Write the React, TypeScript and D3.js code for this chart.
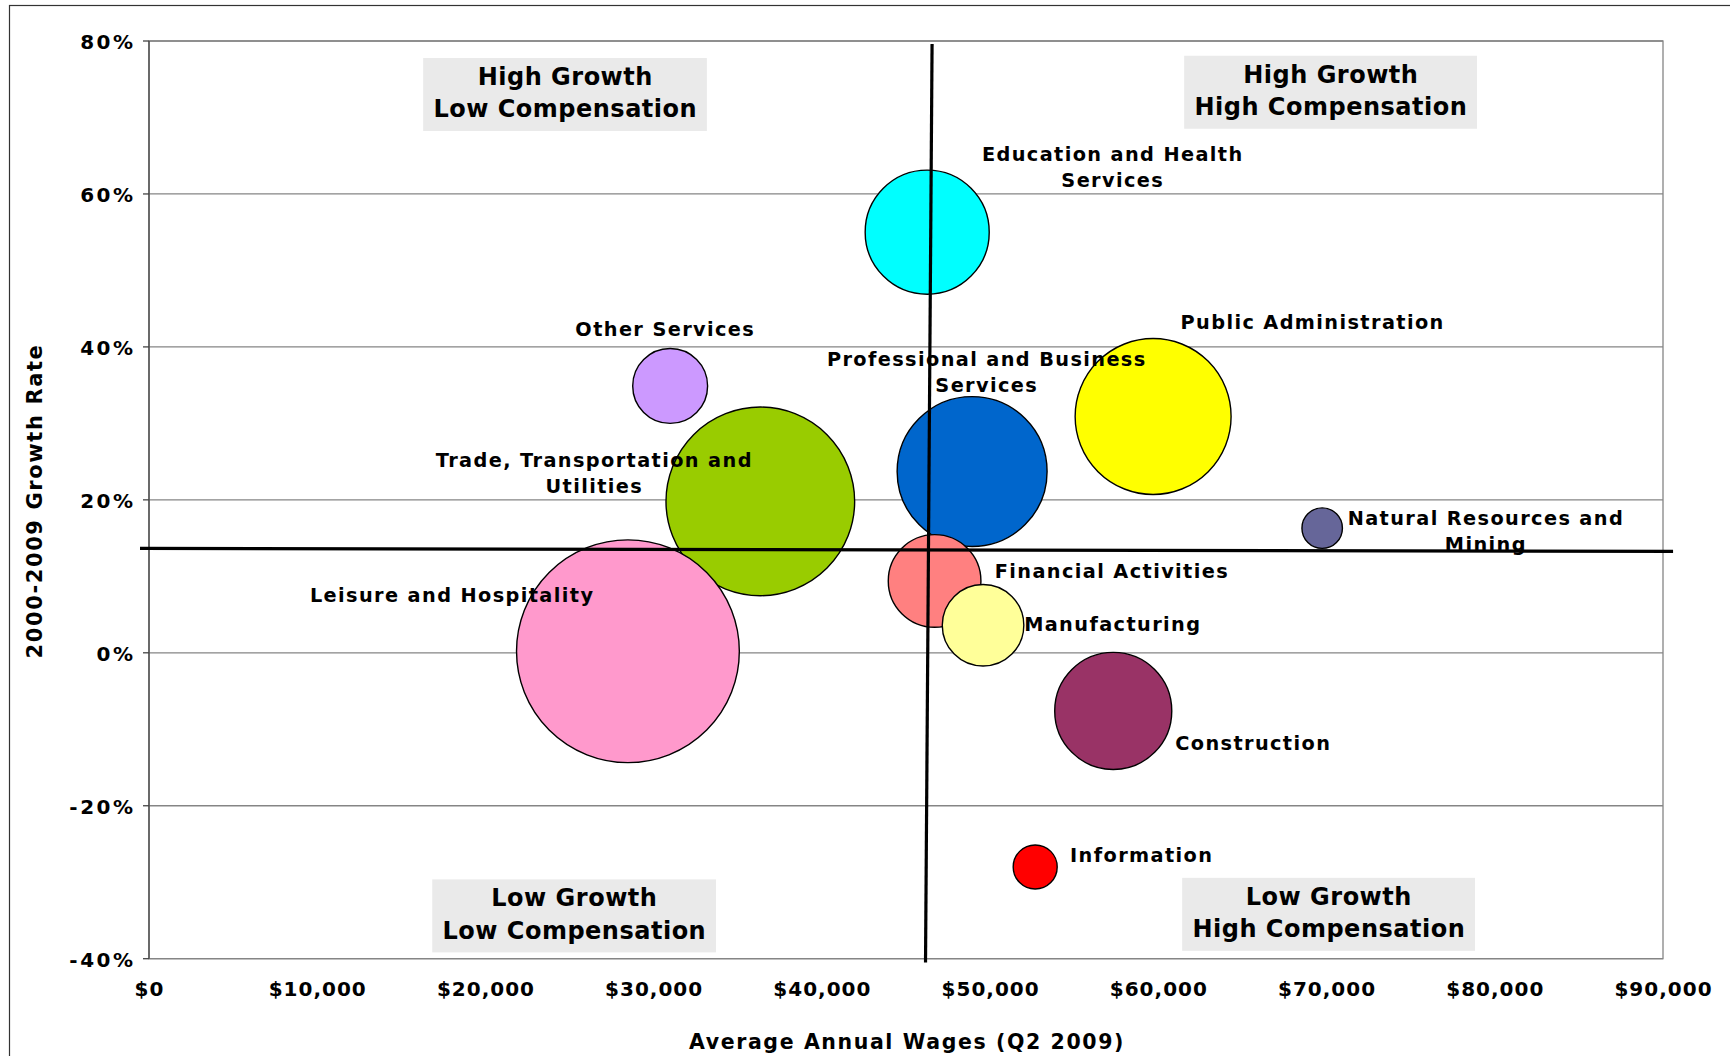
import React, { useEffect, useRef } from 'react';
import * as d3 from 'd3';

// ---- Data (drawing order) ----
const industries = [
  'Education and Health Services',
  'Other Services',
  'Trade, Transportation and Utilities',
  'Leisure and Hospitality',
  'Professional and Business Services',
  'Public Administration',
  'Natural Resources and Mining',
  'Financial Activities',
  'Manufacturing',
  'Construction',
  'Information',
];
const avgWages = [46260, 30980, 36340, 28470, 48930, 59690, 69740, 46700, 49580, 57320, 52680];
const growthRate = [55.0, 34.9, 19.8, 0.2, 23.7, 30.9, 16.3, 9.4, 3.6, -7.6, -28.0];
const employmentSize = [31.0, 11.3, 71.7, 100, 45.3, 49.0, 3.3, 17.3, 13.4, 27.6, 3.9];
const bubbleColors = ['#00FFFF', '#CC99FF', '#99CC00', '#FF99CC', '#0066CC', '#FFFF00', '#666699', '#FF8080', '#FFFF99', '#993366', '#FF0000'];

const labelLines = [
  ['Education and Health', 'Services'],
  ['Other Services'],
  ['Trade, Transportation and', 'Utilities'],
  ['Leisure and Hospitality'],
  ['Professional and Business', 'Services'],
  ['Public Administration'],
  ['Natural Resources and', 'Mining'],
  ['Financial Activities'],
  ['Manufacturing'],
  ['Construction'],
  ['Information'],
];
const labelWage = [57250, 30650, 26430, 17980, 49760, 69130, 79430, 57200, 57250, 65600, 58970];
const labelGrowth = [64.3, 41.4, 24.3, 6.6, 37.5, 42.35, 16.75, 9.73, 2.8, -12.65, -27.4];

const yTicks = [-40, -20, 0, 20, 40, 60, 80];
const xTicks = [0, 10000, 20000, 30000, 40000, 50000, 60000, 70000, 80000, 90000];

const quadrantText = [
  ['High Growth', 'Low Compensation'],
  ['High Growth', 'High Compensation'],
  ['Low Growth', 'Low Compensation'],
  ['Low Growth', 'High Compensation'],
];
const quadrantWage = [24730, 70240, 25270, 70120];
const quadrantGrowth = [73.0, 73.3, -34.4, -34.2];

const dividerVWage = [46550, 46160];
const dividerVGrowth = [79.6, -40.5];
const dividerHWage = [-535, 90600];
const dividerHGrowth = [13.65, 13.26];

const W = 1730;
const H = 1056;
const FONT = '"DejaVu Sans", Verdana, sans-serif';

export default function App() {
  const ref = useRef<SVGSVGElement>(null);

  useEffect(() => {
    const svg = d3.select(ref.current);
    svg.selectAll('*').remove();

    const left = 149, right = 1663, top = 41, bottom = 958.7;
    const x = d3.scaleLinear().domain([0, 90000]).range([left, right]);
    const y = d3.scaleLinear().domain([-40, 80]).range([bottom, top]);
    const r = d3.scaleSqrt().domain([0, 100]).range([0, 111.4]);

    // outer frame
    svg.append('rect').attr('x', 9.5).attr('y', 5.5).attr('width', 1800).attr('height', 1200)
      .attr('fill', 'white').attr('stroke', '#333').attr('stroke-width', 1.2);

    // plot area
    svg.append('rect').attr('x', left).attr('y', top).attr('width', right - left).attr('height', bottom - top)
      .attr('fill', 'white').attr('stroke', '#858585').attr('stroke-width', 1.3);

    // gridlines
    svg.append('g').selectAll('line').data(yTicks).join('line')
      .attr('x1', left).attr('x2', right)
      .attr('y1', d => y(d)).attr('y2', d => y(d))
      .attr('stroke', '#858585').attr('stroke-width', 1.3);

    // y axis line + ticks
    svg.append('line').attr('x1', left).attr('x2', left).attr('y1', top).attr('y2', bottom)
      .attr('stroke', '#444').attr('stroke-width', 1.3);
    svg.append('g').selectAll('line').data(yTicks).join('line')
      .attr('x1', left - 6).attr('x2', left)
      .attr('y1', d => y(d)).attr('y2', d => y(d))
      .attr('stroke', '#444').attr('stroke-width', 1.3);

    // y tick labels
    svg.append('g').selectAll('text').data(yTicks).join('text')
      .attr('x', 135.5).attr('y', d => y(d) + 8)
      .attr('text-anchor', 'end')
      .attr('font-family', FONT).attr('font-weight', 'bold').attr('font-size', 20)
      .attr('letter-spacing', 2.5).attr('fill', '#000')
      .text(d => `${d}%`);

    // x tick labels
    const fmt = d3.format(',');
    svg.append('g').selectAll('text').data(xTicks).join('text')
      .attr('x', d => x(d) + 0.5).attr('y', 996)
      .attr('text-anchor', 'middle')
      .attr('font-family', FONT).attr('font-weight', 'bold').attr('font-size', 20)
      .attr('letter-spacing', 1).attr('fill', '#000')
      .text(d => `$${fmt(d)}`);

    // axis titles
    svg.append('text').attr('x', 907).attr('y', 1049).attr('text-anchor', 'middle')
      .attr('font-family', FONT).attr('font-weight', 'bold').attr('font-size', 20.5)
      .attr('letter-spacing', 1.6).text('Average Annual Wages (Q2 2009)');
    svg.append('text').attr('transform', 'translate(41.5,501) rotate(-90)').attr('text-anchor', 'middle')
      .attr('font-family', FONT).attr('font-weight', 'bold').attr('font-size', 21)
      .attr('letter-spacing', 1.6).text('2000-2009 Growth Rate');

    // quadrant boxes
    const qg = svg.append('g');
    quadrantText.forEach((lines, i) => {
      const cx = x(quadrantWage[i]);
      const cy = y(quadrantGrowth[i]);
      const g = qg.append('g');
      const rect = g.append('rect').attr('fill', '#EAEAEA');
      const t = g.append('text').attr('text-anchor', 'middle')
        .attr('font-family', FONT).attr('font-weight', 'bold').attr('font-size', 24)
        .attr('letter-spacing', 0.5);
      lines.forEach((ln, k) => {
        t.append('tspan').attr('x', cx + 0.25).attr('y', cy - 9.6 + k * 32.3).text(ln);
      });
      const bb = (t.node() as SVGTextElement).getBBox();
      const w = bb.width + 20;
      rect.attr('x', cx - w / 2).attr('y', cy - 36.5).attr('width', w).attr('height', 73);
    });

    // bubbles
    svg.append('g').selectAll('circle').data(industries).join('circle')
      .attr('cx', (_, i) => x(avgWages[i]))
      .attr('cy', (_, i) => y(growthRate[i]))
      .attr('r', (_, i) => r(employmentSize[i]))
      .attr('fill', (_, i) => bubbleColors[i])
      .attr('stroke', '#000').attr('stroke-width', 1.4);

    // bubble labels
    const lg = svg.append('g');
    industries.forEach((_, i) => {
      const t = lg.append('text').attr('text-anchor', 'middle')
        .attr('font-family', FONT).attr('font-weight', 'bold').attr('font-size', 19.3)
        .attr('letter-spacing', 1.4).attr('fill', '#000');
      labelLines[i].forEach((ln, k) => {
        t.append('tspan').attr('x', x(labelWage[i]) + 0.7).attr('y', y(labelGrowth[i]) + k * 25.8).text(ln);
      });
    });

    // divider lines
    const line = d3.line<[number, number]>().x(d => x(d[0])).y(d => y(d[1]));
    svg.append('path')
      .attr('d', line([[dividerVWage[0], dividerVGrowth[0]], [dividerVWage[1], dividerVGrowth[1]]]))
      .attr('stroke', '#000').attr('stroke-width', 3.2).attr('fill', 'none');
    svg.append('path')
      .attr('d', line([[dividerHWage[0], dividerHGrowth[0]], [dividerHWage[1], dividerHGrowth[1]]]))
      .attr('stroke', '#000').attr('stroke-width', 3.2).attr('fill', 'none');
  }, []);

  return (
    <svg
      ref={ref}
      width={W}
      height={H}
      style={{ position: 'absolute', left: 0, top: 0, display: 'block', background: 'white' }}
    />
  );
}
